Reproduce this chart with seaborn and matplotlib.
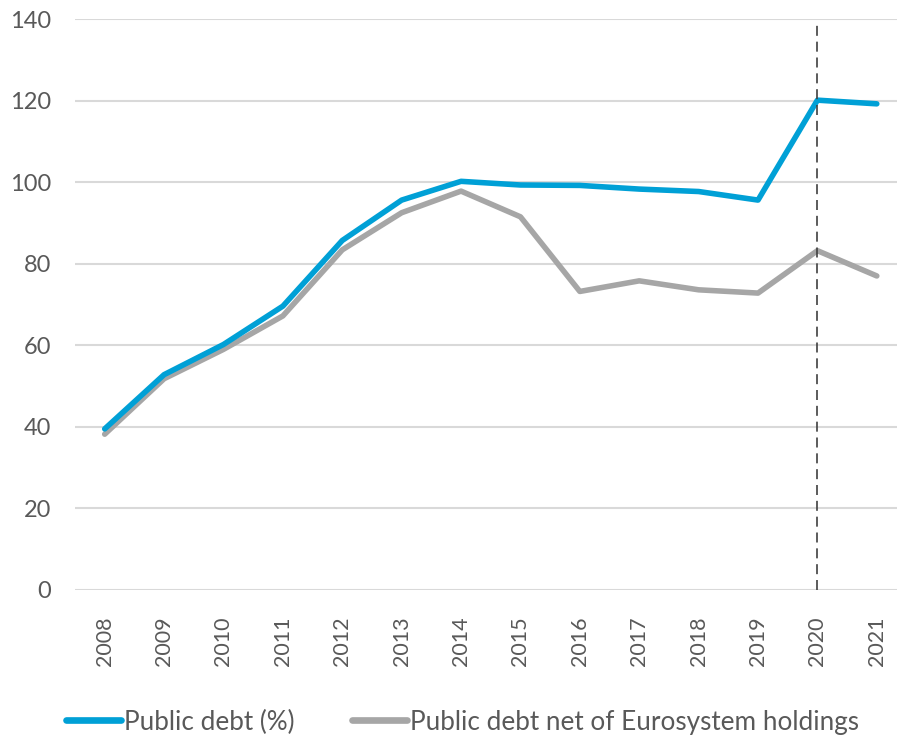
import matplotlib
matplotlib.use("Agg")
import matplotlib.pyplot as plt
import seaborn as sns
import pandas as pd

years = ["2008", "2009", "2010", "2011", "2012", "2013", "2014",
         "2015", "2016", "2017", "2018", "2019", "2020", "2021"]
public_debt = [39.5, 52.8, 60.2, 69.6, 85.7, 95.6, 100.2,
               99.3, 99.2, 98.3, 97.7, 95.6, 120.1, 119.2]
public_debt_net = [38.2, 51.8, 59.0, 67.2, 83.4, 92.5, 97.8,
                   91.5, 73.2, 75.8, 73.6, 72.8, 83.2, 77.0]
series_names = ["Public debt (%)", "Public debt net of Eurosystem holdings"]
y_ticks = [0, 20, 40, 60, 80, 100, 120, 140]
marker_year = "2020"

df = pd.concat([
    pd.DataFrame({"year": years, "value": public_debt, "series": series_names[0]}),
    pd.DataFrame({"year": years, "value": public_debt_net, "series": series_names[1]}),
])

sns.set_style("white")
plt.rcParams["font.family"] = ["Lato", "DejaVu Sans"]

fig = plt.figure(figsize=(8.97, 7.37), dpi=100)
ax = fig.add_axes([75 / 897, (737 - 590) / 737, 1 - 75 / 897, (590 - 19) / 737])

palette = {series_names[0]: "#00A0D6", series_names[1]: "#A6A6A6"}
sns.lineplot(data=df, x="year", y="value", hue="series", palette=palette,
             linewidth=4.0, ax=ax, sort=False, legend=False)
ax.lines[0].set_zorder(4)
ax.lines[1].set_zorder(3)
for ln in ax.lines:
    ln.set_solid_capstyle("round")
    ln.set_solid_joinstyle("round")

xi = years.index(marker_year)
ax.plot([xi, xi], [0, 138.8], color="#404040", linewidth=1.2,
        linestyle=(0, (6, 3.5)), zorder=5)

ax.set_ylim(0, 140)
ax.set_xlim(-0.5, 13.34)
ax.set_yticks(y_ticks)
ax.set_yticklabels([str(v) for v in y_ticks])
ax.grid(axis="y", color="#D9D9D9", linewidth=1.5, zorder=0)
ax.grid(axis="x", visible=False)
for s in ax.spines.values():
    s.set_visible(False)
ax.tick_params(axis="y", length=0, pad=17, labelsize=17, labelcolor="#595959")
ax.tick_params(axis="x", length=0, pad=19, labelsize=15.5, labelcolor="#595959",
               rotation=90)
ax.set_xlabel("")
ax.set_ylabel("")

from matplotlib.lines import Line2D
handles = [Line2D([0], [0], color=palette[n], linewidth=4.8) for n in series_names]
fig.legend(handles, series_names, loc="center left",
           bbox_to_anchor=(66 / 897, 1 - 722 / 737), ncol=2, frameon=False,
           fontsize=18.8, labelcolor="#595959", handlelength=2.1,
           handletextpad=0.12, columnspacing=2.2, borderaxespad=0,
           borderpad=0)

fig.savefig("out.png", dpi=100)
